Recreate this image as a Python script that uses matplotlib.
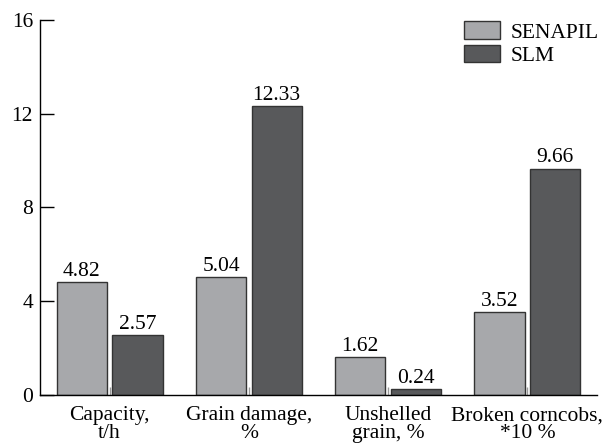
import numpy as np
import matplotlib.pyplot as plt

#------------------------------------------------------------------------------
# data

categories = ['Capacity,\nt/h', 'Grain damage,\n%', 'Unshelled\ngrain, %',
              'Broken corncobs,\n*10 %']
senapil = [4.82, 5.04, 1.62, 3.52]
slm = [2.57, 12.33, 0.24, 9.66]
series_names = ['SENAPIL', 'SLM']

#------------------------------------------------------------------------------

plt.rcParams['font.family'] = ['Liberation Serif', 'DejaVu Serif']
plt.rcParams['font.size'] = 15.5

fig = plt.figure(figsize=[6.03, 4.43], dpi=100)
ax = fig.add_axes([0.0663, 0.1084, 0.9237, 0.8465])

x = np.arange(len(categories))
w = 0.36
off = 0.2

b1 = ax.bar(x - off, senapil, w, color='#a7a8ab', edgecolor='#333333',
            linewidth=1.0, label=series_names[0], zorder=2)
b2 = ax.bar(x + off, slm, w, color='#58595b', edgecolor='#333333',
            linewidth=1.0, label=series_names[1], zorder=2)

for bars, vals in [(b1, senapil), (b2, slm)]:
    for r, v in zip(bars, vals):
        ax.text(r.get_x() + r.get_width()/2, v + 0.05, f"{v:.2f}",
                ha='center', va='bottom', fontsize=15.5)

ax.set_xlim(-0.5, 3.5)
ax.set_ylim(0, 16)
ax.set_yticks([0, 4, 8, 12, 16])
ax.set_xticks(x)
ax.set_xticklabels(categories, linespacing=0.95)

ax.spines['top'].set_visible(False)
ax.spines['right'].set_visible(False)
ax.spines['left'].set_linewidth(1.0)
ax.spines['bottom'].set_linewidth(1.0)

ax.tick_params(axis='y', direction='in', length=10, width=1.0, pad=5)
ax.tick_params(axis='x', direction='in', length=6, width=1.0, color='#999999',
               pad=8)

ax.legend(loc='upper right', frameon=False, handlelength=1.67,
          handleheight=0.88, handletextpad=0.5, labelspacing=0.1,
          borderaxespad=0.1, bbox_to_anchor=(1.023, 1.025))

fig.savefig('out.png', dpi=100)
